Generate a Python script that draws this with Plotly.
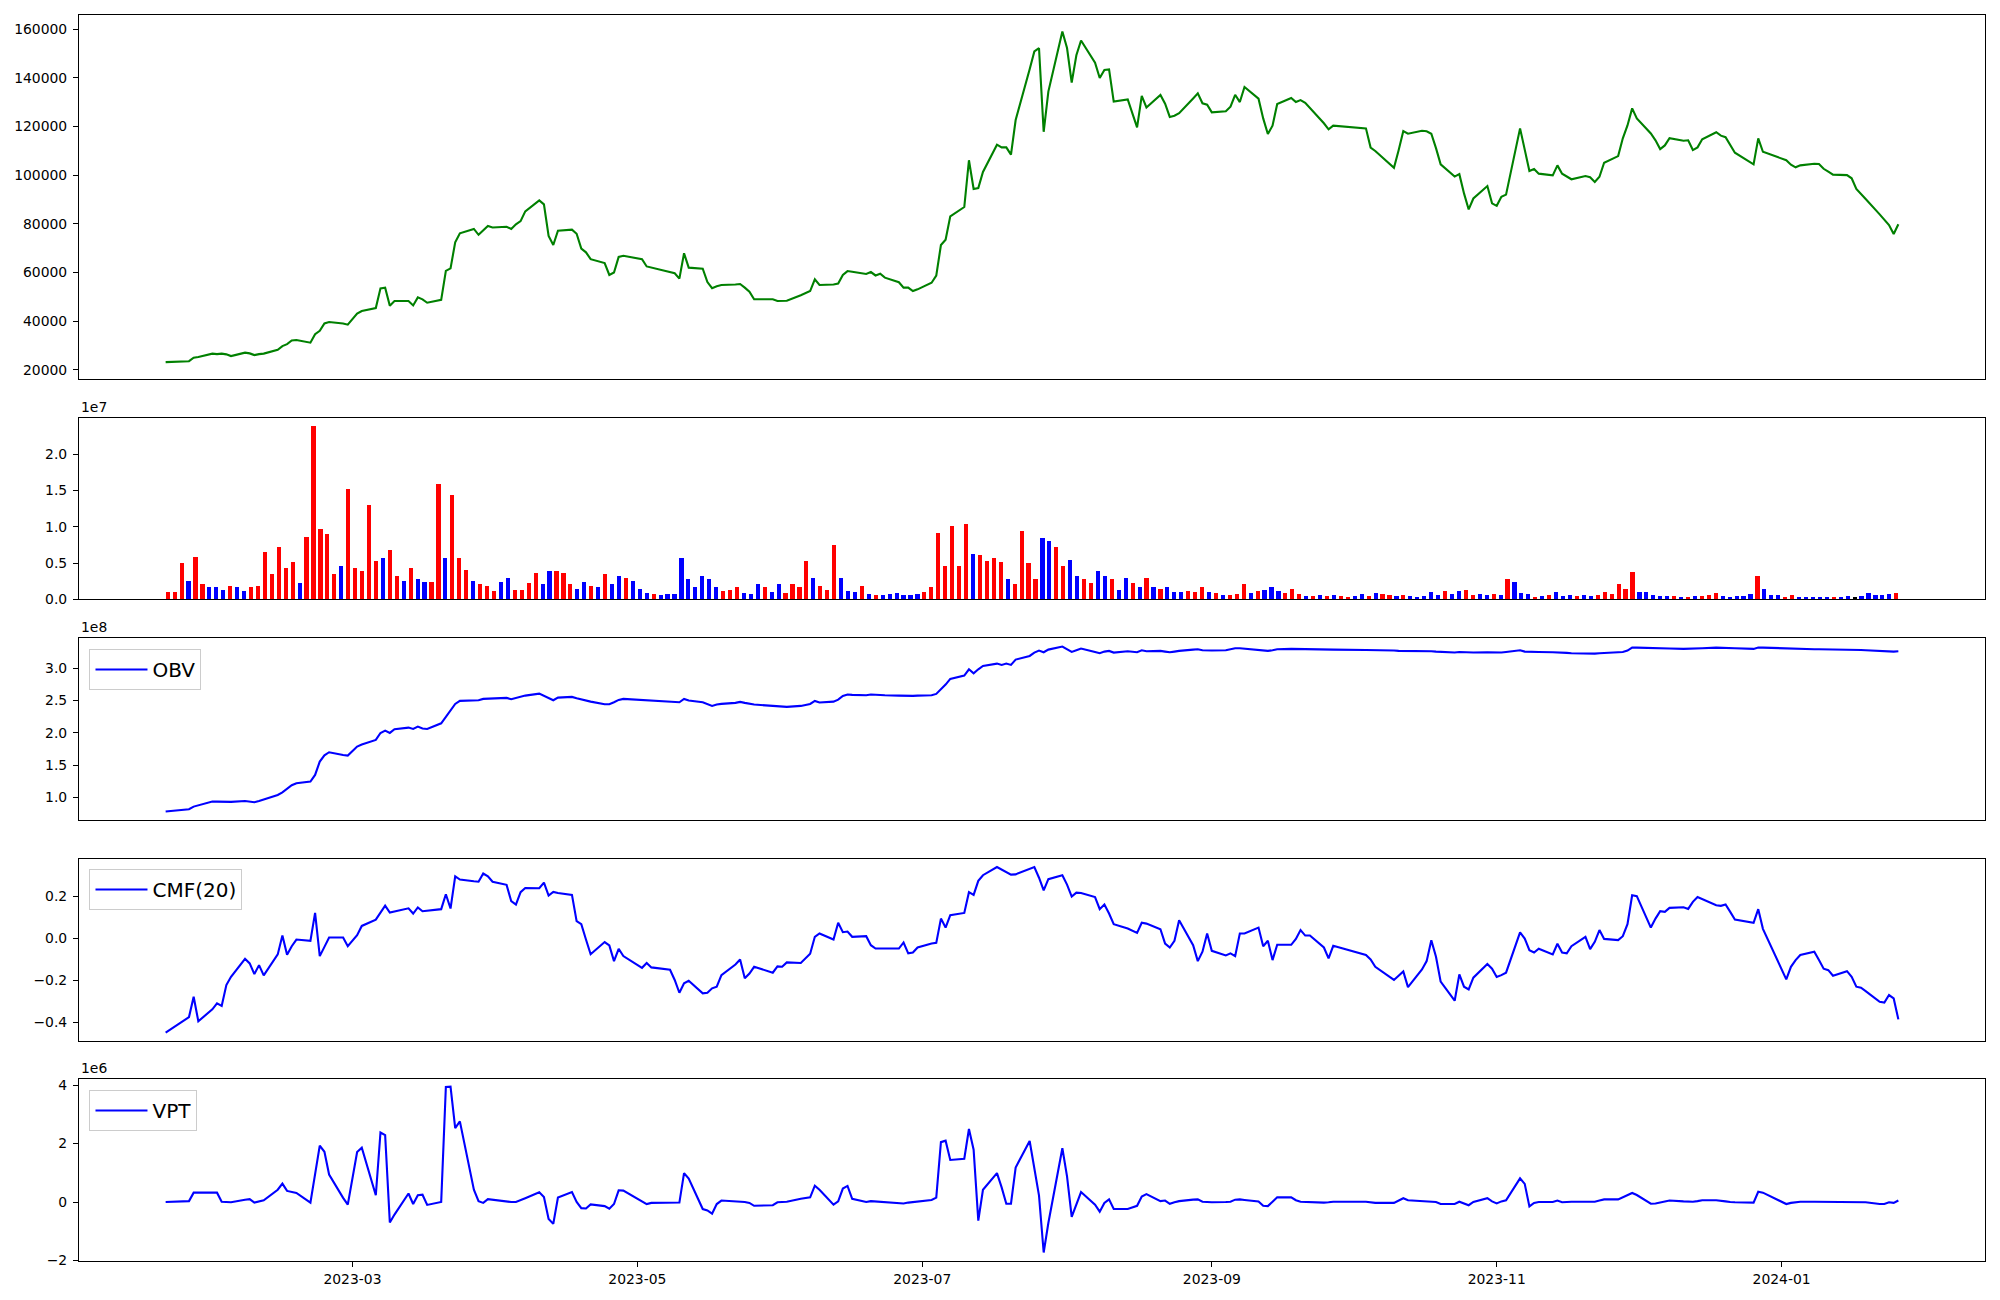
import pandas as pd
import plotly.graph_objects as go

# ---------------- data ----------------
KRX_HOLIDAYS = ["2023-01-23", "2023-01-24", "2023-03-01", "2023-05-01", "2023-05-05",
                "2023-05-29", "2023-06-06", "2023-08-15", "2023-09-28", "2023-09-29",
                "2023-10-02", "2023-10-03", "2023-10-09", "2023-12-25", "2023-12-29",
                "2024-01-01"]
dates = pd.bdate_range("2023-01-20", "2024-01-26", freq="C", holidays=KRX_HOLIDAYS)

close = [
    23200, 23600, 25000, 25300, 26700, 26500, 26700, 26400, 25700, 27100,
    26800, 26100, 26500, 26700, 28300, 29800, 30600, 32100, 32300, 31200,
    34700, 36100, 39100, 39700, 39100, 38600, 43100, 44200, 45400, 53500,
    53800, 46400, 48300, 48300, 46500, 49800, 49000, 47600, 48800, 60700,
    61700, 72400, 76100, 77900, 75500, 77400, 79100, 78500, 78800, 77900,
    79800, 81100, 85100, 89600, 88000, 75000, 71300, 77200, 77600, 75900,
    69800, 68300, 65500, 63900, 59000, 60000, 66400, 66900, 65500, 62500,
    62000, 60200, 59700, 57500, 67900, 62000, 61600, 56100, 53600, 54400,
    54900, 55100, 55300, 53800, 52100, 49000, 49000, 48300, 48300, 48400,
    50700, 52400, 57200, 54900, 55100, 55500, 59000, 60600, 60300, 59400,
    60200, 58800, 59500, 57900, 56000, 53800, 53800, 52400, 53100, 55800,
    58700, 71300, 73500, 83100, 86900, 106100, 94300, 94700, 101300, 112500,
    111400, 111400, 108400, 122600, 143500, 150800, 152100, 117800, 134300, 159000,
    152200, 138000, 149200, 155300, 146200, 139900, 143200, 143400, 130200, 131100,
    119600, 132500, 127800, 132900, 129300, 123900, 124400, 125400, 131500, 133600,
    129500, 128900, 125800, 126200, 128100, 133000, 130000, 136200, 131400, 123300,
    116900, 120300, 129200, 131700, 130000, 130800, 129700, 127700, 121300, 118800,
    120300, 119200, 111300, 109900, 103000, 110200, 118100, 117000, 118200, 118000,
    117000, 111100, 104400, 99400, 100400, 92500, 85900, 90400, 95500, 88400,
    87400, 91100, 92000, 119200, 110300, 101700, 102500, 100600, 99900, 104000,
    100600, 99600, 98300, 99600, 99100, 97200, 99300, 105100, 107800, 115100,
    120400, 127400, 123300, 117100, 114300, 110700, 112200, 115200, 114100, 114300,
    110300, 111400, 114700, 117600, 116200, 115600, 112600, 109200, 104400, 115100,
    109600, 106100, 104300, 103200, 104000, 104700, 104600, 102600, 101400, 100200,
    100000, 98700, 94300, 92100, 90200, 83900, 81800, 79500, 75800, 79800,
]

# volume in millions of shares
volume_m = [
    0.9, 0.9, 5.0, 2.5, 5.8, 2.1, 1.7, 1.6, 1.3, 1.8,
    1.6, 1.15, 1.6, 1.8, 6.5, 3.5, 7.1, 4.3, 5.1, 2.25,
    8.6, 23.9, 9.7, 9.0, 3.5, 4.5, 15.2, 4.3, 3.8, 12.9,
    5.3, 5.6, 6.7, 3.2, 2.5, 4.2, 2.8, 2.4, 2.4, 15.8,
    5.7, 14.3, 5.6, 4.0, 2.5, 2.0, 1.8, 1.15, 2.4, 2.9,
    1.3, 1.3, 2.25, 3.6, 2.0, 3.9, 3.8, 3.6, 2.0, 1.4,
    2.4, 1.8, 1.6, 3.4, 2.0, 3.2, 2.9, 2.5, 1.4, 0.87,
    0.74, 0.6, 0.74, 0.74, 5.6, 2.8, 1.6, 3.2, 2.8, 1.7,
    1.15, 1.3, 1.7, 0.87, 0.74, 2.0, 1.6, 1.0, 2.0, 0.87,
    2.0, 1.6, 5.3, 2.9, 1.8, 1.3, 7.4, 2.9, 1.15, 1.0,
    1.8, 0.74, 0.6, 0.6, 0.74, 0.87, 0.6, 0.6, 0.74, 1.0,
    1.7, 9.15, 4.5, 10.0, 4.6, 10.4, 6.25, 6.1, 5.3, 5.7,
    5.15, 2.7, 2.1, 9.4, 5.0, 2.8, 8.46, 8.0, 7.2, 4.5,
    5.4, 3.1, 2.8, 2.25, 3.9, 3.1, 2.8, 1.3, 2.9, 2.25,
    1.7, 2.9, 1.7, 1.4, 1.6, 1.0, 1.0, 1.15, 1.0, 1.6,
    1.0, 0.87, 0.6, 0.6, 0.74, 2.1, 0.87, 1.15, 1.3, 1.6,
    1.15, 0.87, 1.4, 0.74, 0.46, 0.46, 0.6, 0.46, 0.6, 0.46,
    0.32, 0.46, 0.74, 0.46, 0.87, 0.74, 0.6, 0.46, 0.6, 0.46,
    0.32, 0.46, 1.0, 0.6, 1.15, 0.74, 1.15, 1.3, 0.6, 0.74,
    0.6, 0.74, 0.6, 2.7, 2.4, 0.87, 0.74, 0.32, 0.46, 0.6,
    1.0, 0.46, 0.6, 0.46, 0.6, 0.46, 0.6, 1.0, 0.74, 2.1,
    1.4, 3.77, 1.0, 1.0, 0.6, 0.46, 0.46, 0.46, 0.32, 0.32,
    0.46, 0.46, 0.6, 0.87, 0.46, 0.32, 0.46, 0.46, 0.74, 3.1,
    1.4, 0.6, 0.6, 0.32, 0.6, 0.32, 0.32, 0.32, 0.32, 0.32,
    0.32, 0.18, 0.46, 0.32, 0.46, 0.87, 0.6, 0.6, 0.74, 0.87,
]

# candle direction of each day: r = up (close > open), b = down, k = unchanged
candle_dir = list(
    "rrrbrrbbbr" "bbrrrrrrrb" "rrrrrbrrrr" "rbrrbrbbrr" "brrrbrrrbb"
    "rrrrbbrrrb" "brbrbbrbbb" "rbbbbbbbbb" "rrrbbbrbbr" "rrrbrrrbbb"
    "rbrbbbbbbr" "rrrrrrbrrr" "rbrrrrbbrr" "bbrrbbrbbr" "brbrbbbrrr"
    "brbrrrbrbb" "brrrbrbrbr" "rbbrbrrbrb" "bbbbrbbrrb" "brbrbbbrbr"
    "bbbrbbrrrr" "rrbbbbbrbr" "brrrbbbbbr" "bbbrrbbbbb" "rbbkbbbbbr"
)

# On-Balance Volume, millions
obv_m = [
    77.8, 81.4, 85.5, 87.6, 93.3, 93.3, 93.3, 93.8, 92.8, 94.3,
    92.8, 92.2, 94.3, 96.9, 103.6, 107.7, 112.9, 118.6, 121.7, 124.3,
    134.6, 155.3, 165.1, 169.8, 165.6, 164.6, 178.6, 181.7, 188.9, 199.7,
    203.4, 199.7, 205.4, 208.0, 205.9, 209.6, 206.5, 205.9, 214.7, 225.1,
    233.9, 244.7, 249.4, 250.4, 250.4, 252.5, 253.0, 252.5, 254.0, 251.9,
    254.0, 256.1, 257.6, 260.7, 257.1, 253.5, 250.4, 254.5, 255.6, 253.5,
    251.4, 249.9, 248.3, 244.2, 244.2, 247.3, 250.9, 252.5, 250.9, 250.9,
    250.4, 248.8, 247.8, 247.3, 252.5, 249.9, 247.3, 244.7, 241.6, 243.7,
    244.7, 246.3, 247.8, 246.3, 244.7, 243.7, 241.6, 241.1, 239.5, 240.1,
    241.6, 244.7, 249.4, 246.8, 248.3, 251.4, 257.1, 259.2, 258.7, 258.1,
    259.2, 258.7, 258.7, 258.1, 257.6, 257.1, 257.1, 257.1, 257.6, 258.1,
    260.2, 267.4, 274.7, 283.5, 288.6, 298.4, 292.2, 298.4, 303.6, 307.2,
    305.2, 307.2, 305.2, 313.4, 319.1, 324.3, 327.4, 324.8, 328.9, 333.6,
    330.0, 325.3, 327.9, 330.5, 325.3, 323.3, 325.8, 326.9, 324.3, 326.4,
    324.8, 327.9, 326.4, 326.9, 325.8, 324.8, 325.8, 326.9, 328.9, 329.5,
    327.9, 327.4, 327.4, 327.9, 329.5, 331.0, 331.0, 330.5, 328.9, 327.9,
    326.9, 327.9, 329.5, 330.0, 330.0, 330.0, 330.0, 329.5, 328.9, 328.9,
    328.9, 328.4, 328.4, 328.4, 327.4, 326.9, 326.9, 327.4, 327.4, 326.9,
    326.4, 325.8, 325.3, 324.3, 325.3, 324.8, 323.8, 324.3, 324.8, 324.3,
    323.8, 324.3, 325.3, 327.9, 325.8, 325.3, 325.3, 325.3, 324.8, 324.8,
    324.3, 323.8, 323.3, 322.7, 322.7, 322.7, 323.3, 323.8, 324.3, 325.3,
    327.4, 332.0, 332.0, 331.0, 330.5, 330.5, 330.5, 330.5, 330.0, 330.0,
    330.0, 330.5, 331.0, 332.0, 331.5, 331.5, 331.0, 331.0, 330.0, 332.0,
    332.0, 330.5, 330.0, 330.0, 329.5, 329.5, 329.5, 329.5, 329.5, 329.5,
    328.9, 328.4, 328.4, 328.4, 327.9, 326.9, 326.4, 325.8, 325.8, 326.4,
]

# Chaikin Money Flow (20)
cmf20 = [
    -0.449, -0.375, -0.278, -0.395, -0.338, -0.310, -0.322, -0.222, -0.183, -0.097,
    -0.119, -0.170, -0.127, -0.176, -0.076, 0.014, -0.078, -0.037, -0.005, -0.011,
    0.122, -0.084, -0.040, 0.005, 0.005, -0.037, 0.016, 0.060, 0.090, 0.125,
    0.157, 0.124, 0.129, 0.144, 0.119, 0.148, 0.130, 0.133, 0.140, 0.211,
    0.143, 0.297, 0.281, 0.273, 0.271, 0.310, 0.297, 0.271, 0.256, 0.178,
    0.162, 0.221, 0.241, 0.240, 0.267, 0.205, 0.222, 0.217, 0.208, 0.083,
    0.068, -0.005, -0.075, -0.017, -0.033, -0.108, -0.049, -0.084, -0.140, -0.117,
    -0.138, -0.149, -0.198, -0.259, -0.214, -0.202, -0.262, -0.259, -0.238, -0.230,
    -0.175, -0.124, -0.100, -0.190, -0.167, -0.135, -0.163, -0.133, -0.135, -0.114,
    -0.117, -0.073, 0.008, 0.024, -0.005, 0.075, 0.030, 0.033, 0.008, 0.011,
    -0.032, -0.048, -0.048, -0.048, -0.048, -0.019, -0.071, -0.067, -0.043, -0.024,
    -0.021, 0.095, 0.052, 0.111, 0.122, 0.221, 0.208, 0.275, 0.302, 0.341,
    0.329, 0.317, 0.305, 0.306, 0.333, 0.341, 0.290, 0.230, 0.283, 0.302,
    0.257, 0.200, 0.219, 0.217, 0.198, 0.140, 0.162, 0.119, 0.068, 0.048,
    0.027, 0.075, 0.071, 0.044, -0.024, -0.043, -0.011, 0.087, -0.032, -0.108,
    -0.063, 0.024, -0.059, -0.081, -0.071, -0.084, 0.024, 0.024, 0.052, -0.037,
    -0.011, -0.103, -0.030, -0.030, -0.002, 0.040, 0.014, 0.014, -0.043, -0.095,
    -0.035, -0.079, -0.100, -0.135, -0.198, -0.178, -0.157, -0.232, -0.148, -0.108,
    -0.008, -0.087, -0.206, -0.297, -0.171, -0.230, -0.243, -0.187, -0.122, -0.144,
    -0.184, -0.175, -0.163, 0.029, 0.000, -0.056, -0.067, -0.049, -0.076, -0.025,
    -0.067, -0.071, -0.037, 0.008, -0.051, -0.016, 0.040, -0.002, -0.008, 0.011,
    0.068, 0.206, 0.202, 0.052, 0.095, 0.130, 0.127, 0.146, 0.149, 0.141,
    0.175, 0.198, 0.189, 0.159, 0.156, 0.162, 0.127, 0.090, 0.075, 0.140,
    0.046, -0.195, -0.135, -0.103, -0.079, -0.063, -0.103, -0.144, -0.151, -0.178,
    -0.156, -0.183, -0.230, -0.235, -0.251, -0.302, -0.306, -0.270, -0.286, -0.386,
]

# Volume Price Trend, millions
vpt_m = [
    0.00, 0.03, 0.32, 0.32, 0.32, 0.32, 0.01, 0.00, -0.01, 0.08,
    0.10, -0.02, 0.01, 0.06, 0.42, 0.63, 0.38, 0.35, 0.31, -0.02,
    0.99, 1.93, 1.72, 0.94, 0.14, -0.09, 1.71, 1.86, 0.23, 2.38,
    2.29, -0.70, -0.43, 0.29, -0.07, 0.23, 0.25, -0.10, 0.00, 3.94,
    3.95, 2.53, 2.76, 0.42, 0.03, -0.03, 0.10, 0.08, 0.01, 0.00,
    0.00, 0.06, 0.13, 0.33, 0.17, -0.58, -0.75, 0.15, 0.34, 0.00,
    -0.21, -0.22, -0.08, -0.14, -0.23, -0.07, 0.40, 0.39, 0.02, -0.07,
    -0.03, -0.02, -0.02, -0.02, 0.99, 0.80, -0.24, -0.29, -0.40, -0.07,
    0.05, 0.03, 0.03, 0.00, -0.03, -0.13, -0.11, -0.01, 0.00, 0.01,
    0.11, 0.16, 0.56, 0.42, -0.09, 0.02, 0.46, 0.55, 0.11, 0.00,
    0.03, 0.02, 0.01, 0.00, -0.03, -0.05, -0.02, 0.00, 0.01, 0.07,
    0.15, 2.05, 2.10, 1.44, 1.48, 2.50, 1.79, -0.64, 0.42, 0.99,
    0.50, -0.06, -0.06, 1.18, 2.09, 1.13, 0.22, -1.73, -0.72, 1.84,
    0.88, -0.51, -0.11, 0.34, -0.09, -0.33, -0.03, 0.09, -0.24, -0.24,
    -0.13, 0.19, 0.27, 0.03, 0.05, -0.06, -0.01, 0.03, 0.08, 0.09,
    0.01, -0.01, -0.01, 0.00, 0.01, 0.08, 0.09, 0.07, 0.02, -0.13,
    -0.14, 0.01, 0.16, 0.16, 0.06, 0.01, 0.00, -0.01, -0.02, -0.01,
    0.01, 0.01, -0.02, -0.03, -0.03, 0.05, 0.13, 0.06, 0.02, 0.02,
    0.01, 0.00, -0.07, -0.07, 0.01, -0.05, -0.11, 0.00, 0.13, 0.02,
    -0.05, 0.02, 0.06, 0.81, 0.62, -0.15, -0.03, 0.00, 0.00, 0.05,
    -0.01, 0.00, 0.01, 0.01, 0.01, 0.01, 0.05, 0.09, 0.09, 0.16,
    0.24, 0.31, 0.24, -0.06, -0.05, -0.01, 0.02, 0.05, 0.02, 0.01,
    0.01, 0.03, 0.06, 0.06, 0.05, 0.02, 0.00, -0.01, -0.02, 0.35,
    0.32, -0.07, -0.03, 0.00, 0.01, 0.01, 0.01, 0.01, 0.01, 0.01,
    0.01, 0.00, 0.00, 0.00, -0.01, -0.07, -0.07, -0.01, -0.03, 0.05,
]

X_TICKS = ["2023-03-01", "2023-05-01", "2023-07-01", "2023-09-01", "2023-11-01", "2024-01-01"]
PRICE_TICKS = [20000, 40000, 60000, 80000, 100000, 120000, 140000, 160000]

# ---------------- figure ----------------
assert len(dates) == len(close) == len(volume_m) == len(obv_m) == len(cmf20) == len(vpt_m) == len(candle_dir)

COLOR_MAP = {"r": "red", "b": "blue", "k": "black"}
bar_colors = [COLOR_MAP[c] for c in candle_dir]
volume = [v * 1e6 for v in volume_m]
obv = [v * 1e6 for v in obv_m]
vpt = [v * 1e6 for v in vpt_m]
bar_index = list(range(len(volume)))

FONT = "DejaVu Sans"
TICK_FONT = dict(family=FONT, size=13.9, color="black")
LW = 2.1

fig = go.Figure()
fig.add_trace(go.Scatter(x=dates, y=close, mode="lines", line=dict(color="green", width=LW),
                         xaxis="x", yaxis="y", showlegend=False))
fig.add_trace(go.Bar(x=bar_index, y=volume, width=0.6, marker=dict(color=bar_colors, line=dict(width=0)),
                     xaxis="x2", yaxis="y2", showlegend=False))
fig.add_trace(go.Scatter(x=dates, y=obv, mode="lines", name="OBV", line=dict(color="blue", width=LW),
                         xaxis="x3", yaxis="y3", legend="legend"))
fig.add_trace(go.Scatter(x=dates, y=cmf20, mode="lines", name="CMF(20)", line=dict(color="blue", width=LW),
                         xaxis="x4", yaxis="y4", legend="legend2"))
fig.add_trace(go.Scatter(x=dates, y=vpt, mode="lines", name="VPT", line=dict(color="blue", width=LW),
                         xaxis="x5", yaxis="y5", legend="legend3"))

XR = ["2023-01-01 10:48:00", "2024-02-13 13:12:00"]
frame = dict(showline=True, linecolor="black", linewidth=1.1, mirror=True,
             showgrid=False, zeroline=False, automargin=False)
yax = dict(frame, ticks="outside", ticklen=5, tickwidth=1.1, tickcolor="black",
           tickfont=TICK_FONT, ticklabelstandoff=3)
xnone = dict(frame, ticks="", showticklabels=False)

D1 = [0.7079, 1.0]
D2 = [0.5311, 0.6763]
D3 = [0.3537, 0.4998]
D4 = [0.1766, 0.3224]
D5 = [0.0, 0.1458]

def minus(s):
    return s.replace("-", "\u2212")

# the page body adds an 8px offset, so the figure is 1992x1292 with margins shifted by 8px
fig.update_layout(
    width=1992, height=1292,
    margin=dict(l=71, r=15, t=7, b=39, autoexpand=False),
    paper_bgcolor="white", plot_bgcolor="white",
    font=dict(family=FONT, color="black"),
    bargap=0,
    xaxis=dict(xnone, type="date", range=XR, anchor="y", domain=[0, 1]),
    yaxis=dict(yax, domain=D1, anchor="x", range=[16300, 165750],
               tickvals=PRICE_TICKS, ticktext=[str(v) for v in PRICE_TICKS]),
    xaxis2=dict(xnone, type="linear", range=[-12.78, 261.78], anchor="y2", domain=[0, 1]),
    yaxis2=dict(yax, domain=D2, anchor="x2", range=[0, 2.497e7],
                tickvals=[0, 5e6, 1e7, 1.5e7, 2e7], ticktext=["0.0", "0.5", "1.0", "1.5", "2.0"]),
    xaxis3=dict(xnone, type="date", range=XR, anchor="y3", domain=[0, 1]),
    yaxis3=dict(yax, domain=D3, anchor="x3", range=[0.643e8, 3.465e8],
                tickvals=[1e8, 1.5e8, 2e8, 2.5e8, 3e8], ticktext=["1.0", "1.5", "2.0", "2.5", "3.0"]),
    xaxis4=dict(xnone, type="date", range=XR, anchor="y4", domain=[0, 1]),
    yaxis4=dict(yax, domain=D4, anchor="x4", range=[-0.489, 0.378],
                tickvals=[-0.4, -0.2, 0.0, 0.2], ticktext=[minus("-0.4"), minus("-0.2"), "0.0", "0.2"]),
    xaxis5=dict(frame, type="date", range=XR, anchor="y5", domain=[0, 1],
                ticks="outside", ticklen=5, tickwidth=1.1, tickcolor="black",
                tickfont=TICK_FONT, tickvals=X_TICKS, tickformat="%Y-%m"),
    yaxis5=dict(yax, domain=D5, anchor="x5", range=[-2.02e6, 4.2e6],
                tickvals=[-2e6, 0, 2e6, 4e6], ticktext=[minus("-2"), "0", "2", "4"]),
)

leg_common = dict(xanchor="left", yanchor="top", bgcolor="rgba(255,255,255,0.8)",
                  bordercolor="#cccccc", borderwidth=1, itemwidth=52,
                  font=dict(family=FONT, size=20, color="black"))
fig.update_layout(
    legend=dict(leg_common, x=0.0055, y=0.4912),
    legend2=dict(leg_common, x=0.0055, y=0.3146),
    legend3=dict(leg_common, x=0.0055, y=0.1372),
)

for txt, ytop in [("1e7", D2[1]), ("1e8", D3[1]), ("1e6", D5[1])]:
    fig.add_annotation(text=txt, xref="paper", yref="paper", x=0, y=ytop,
                       xanchor="left", yanchor="bottom", showarrow=False, yshift=1,
                       font=TICK_FONT)

fig.write_html("out.html")
